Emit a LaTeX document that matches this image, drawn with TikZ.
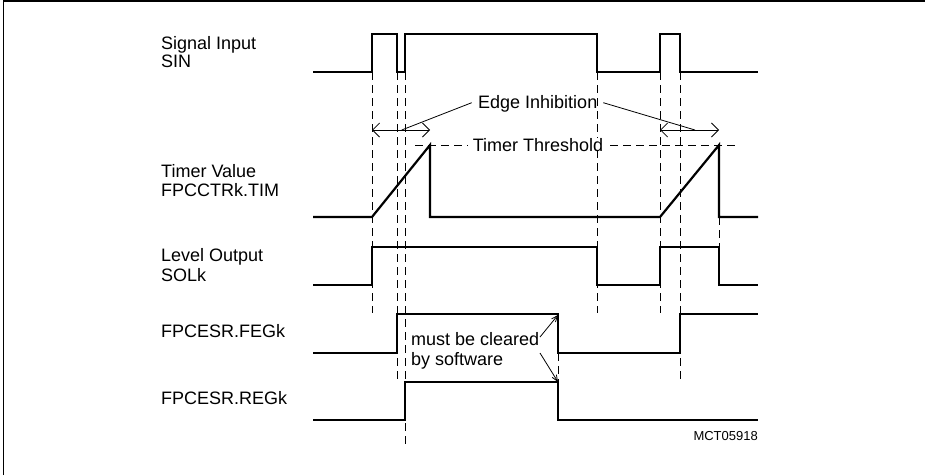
\documentclass[tikz,border=0pt]{standalone}
\usepackage{fontspec}
\setmainfont{Liberation Sans}
\usetikzlibrary{arrows.meta}
\begin{document}
\begin{tikzpicture}[x=1pt,y=-1pt,
  wave/.style={line width=2.2pt, line join=miter},
  guide/.style={line width=0.9pt, dash pattern=on 8pt off 5pt},
  lbl/.style={anchor=base west, inner sep=0pt, font=\fontsize{18}{18}\selectfont},
  note/.style={inner sep=0pt, font=\fontsize{18}{18}\selectfont},
  leader/.style={line width=0.8pt},
  dimarrow/.style={line width=0.8pt, {Straight Barb[length=7pt,width=14pt]}-{Straight Barb[length=7pt,width=14pt]}},
  clr/.style={line width=0.8pt, -{Straight Barb[length=6pt,width=5pt]}}]
\useasboundingbox (0,0) rectangle (925,475);
% frame (left and top edges)
\draw[line width=1.5pt] (3.3,475) -- (3.3,1) -- (925,1);

% labels
\node[lbl] (l1a) at (161,49.3) {Signal Input};
\node[lbl] (l1b) at (161,67.7) {SIN};
\node[lbl] (l2a) at (161,177.7) {Timer Value};
\node[lbl] (l2b) at (161,196) {FPCCTRk.TIM};
\node[lbl] (l3a) at (161,261.7) {Level Output};
\node[lbl] (l3b) at (161,281) {SOLk};
\node[lbl] (l4) at (161,337.3) {FPCESR.FEGk};
\node[lbl] (l5) at (161,404.3) {FPCESR.REGk};

% guide lines
\draw[guide] (372,72) -- (372,313);
\draw[guide] (397,72) -- (397,380);
\draw[guide] (405,72) -- (405,447);
\draw[guide] (597,72) -- (597,313);
\draw[guide] (660,72) -- (660,313);
\draw[guide] (680,72) -- (680,382);
\draw[guide] (719,217) -- (719,247);
\draw[guide] (558,353) -- (558,382);

% timer threshold
\draw[guide] (415,145) -- (738,145);
\node[note, fill=white, inner xsep=5pt, anchor=base west] (thr) at (467.7,151) {Timer Threshold};

% waveforms
\draw[wave] (313,72.3) -- (372,72.3) -- (372,34) -- (397,34) -- (397,72.3) -- (405,72.3) -- (405,34)
  -- (597,34) -- (597,72.3) -- (660,72.3) -- (660,34) -- (680,34) -- (680,72.3) -- (758,72.3);
\draw[wave] (313,217) -- (372,217) -- (430,145) -- (430,217) -- (660,217) -- (719,145) -- (719,217) -- (758,217);
\draw[wave] (313,285) -- (372,285) -- (372,247) -- (597,247) -- (597,285) -- (660,285) -- (660,247)
  -- (719,247) -- (719,285) -- (758,285);
\draw[wave] (313,353) -- (397,353) -- (397,314) -- (558,314) -- (558,353) -- (680,353) -- (680,314) -- (758,314);
\draw[wave] (313,420) -- (405,420) -- (405,382) -- (558,382) -- (558,420) -- (758,420);

% edge inhibition
\coordinate (e1a) at (372,130);
\coordinate (e1b) at (430,130);
\coordinate (e2a) at (660,130);
\coordinate (e2b) at (719,130);
\draw[dimarrow] (e1a) -- (e1b);
\draw[dimarrow] (e2a) -- (e2b);
\node[note, anchor=base west] (edge) at (478,108.5) {Edge Inhibition};
\coordinate (p1) at (401.7,130);
\coordinate (p2) at (695,130);
\draw[leader] (471.7,102.7) -- (p1);
\draw[leader] (603.3,102.7) -- (p2);

% must be cleared
\node[lbl] (c1) at (411,345.3) {must be cleared};
\node[lbl] (c2) at (411,365) {by software};
\coordinate (fe) at (558,315);
\coordinate (re) at (558,382);
\draw[clr] (540,337) -- (fe);
\draw[clr] (540,353) -- (re);

% figure id
\node[inner sep=0pt, anchor=base east, font=\fontsize{13}{13}\selectfont] (id) at (758,440.7) {MCT05918};
\end{tikzpicture}
\end{document}
